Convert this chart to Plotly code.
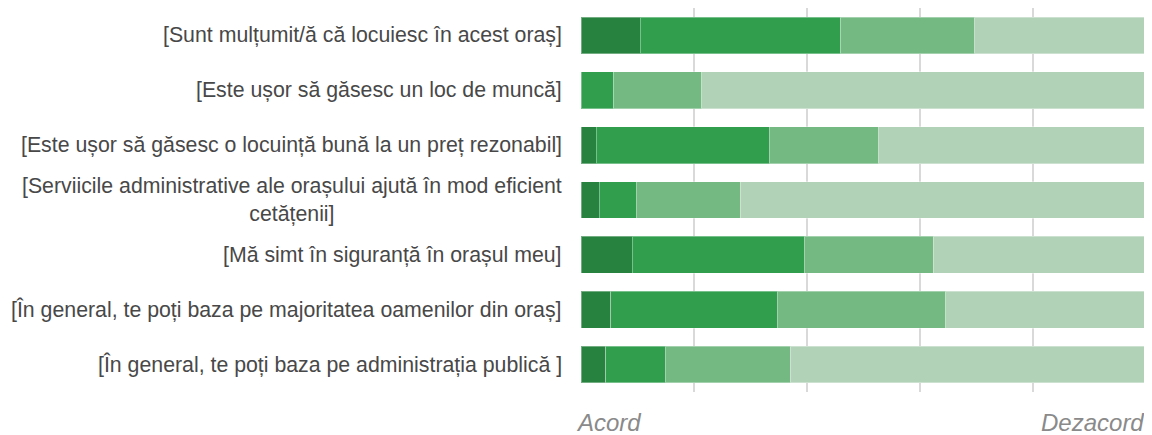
import plotly.graph_objects as go

categories = [
    "[Sunt mulțumit/ă că locuiesc în acest oraș]",
    "[Este ușor să găsesc un loc de muncă]",
    "[Este ușor să găsesc o locuință bună la un preț rezonabil]",
    "[Serviicile administrative ale orașului ajută în mod eficient<br>cetățenii]",
    "[Mă simt în siguranță în orașul meu]",
    "[În general, te poți baza pe majoritatea oamenilor din oraș]",
    "[În general, te poți baza pe administrația publică ]",
]
series_names = ["Acord total", "Acord", "Dezacord", "Dezacord total"]
s1 = [10.5, 0.0, 2.7, 3.2, 9.1, 5.3, 4.4]
s2 = [35.5, 5.8, 30.6, 6.6, 30.4, 29.4, 10.5]
s3 = [23.7, 15.6, 19.4, 18.4, 22.8, 29.9, 22.1]
s4 = [30.3, 78.6, 47.3, 71.8, 37.7, 35.4, 63.0]
colors = ["#27813f", "#319e4d", "#74b982", "#b2d2b8"]

ids = list(range(len(categories)))

fig = go.Figure()
for name, vals, col in zip(series_names, [s1, s2, s3, s4], colors):
    fig.add_trace(go.Bar(
        y=ids, x=vals, name=name, orientation="h",
        marker=dict(color=col, line=dict(color="rgba(255,255,255,0.35)", width=1)),
        showlegend=False,
    ))

lab_font = dict(family="Liberation Sans, Arial", size=21.3, color="#484848")
annotations = []
for i, c in zip(ids, categories):
    annotations.append(dict(
        xref="paper", yref="y", x=0, y=i, xshift=-17, xanchor="right",
        yanchor="middle", align="center", text=c, showarrow=False, font=lab_font))

ax_font = dict(family="Liberation Sans, Arial", size=24, color="#8a8a8a")
annotations.append(dict(xref="paper", yref="paper", x=0, y=0, yshift=-15, xshift=-7,
                        xanchor="left", yanchor="top", text="<i>Acord</i>", showarrow=False,
                        font=ax_font))
annotations.append(dict(xref="paper", yref="paper", x=1, y=0, yshift=-15, xshift=0,
                        xanchor="right", yanchor="top", text="<i>Dezacord</i>", showarrow=False,
                        font=ax_font))

# page body has an 8px margin, so the figure is sized to fit the 1152x435 window
fig.update_layout(
    width=1144, height=427,
    barmode="stack", bargap=0.33,
    plot_bgcolor="white", paper_bgcolor="white",
    margin=dict(l=573, r=6, t=0, b=43, pad=0),
    xaxis=dict(range=[0, 100], dtick=20, showgrid=True, gridcolor="#d9d9d9", gridwidth=2,
               showticklabels=False, zeroline=False, showline=False, fixedrange=True),
    yaxis=dict(range=[len(categories) - 0.5, -0.5], showticklabels=False, showgrid=False,
               zeroline=False, showline=False, fixedrange=True),
    annotations=annotations,
)

fig.write_html("out.html")
